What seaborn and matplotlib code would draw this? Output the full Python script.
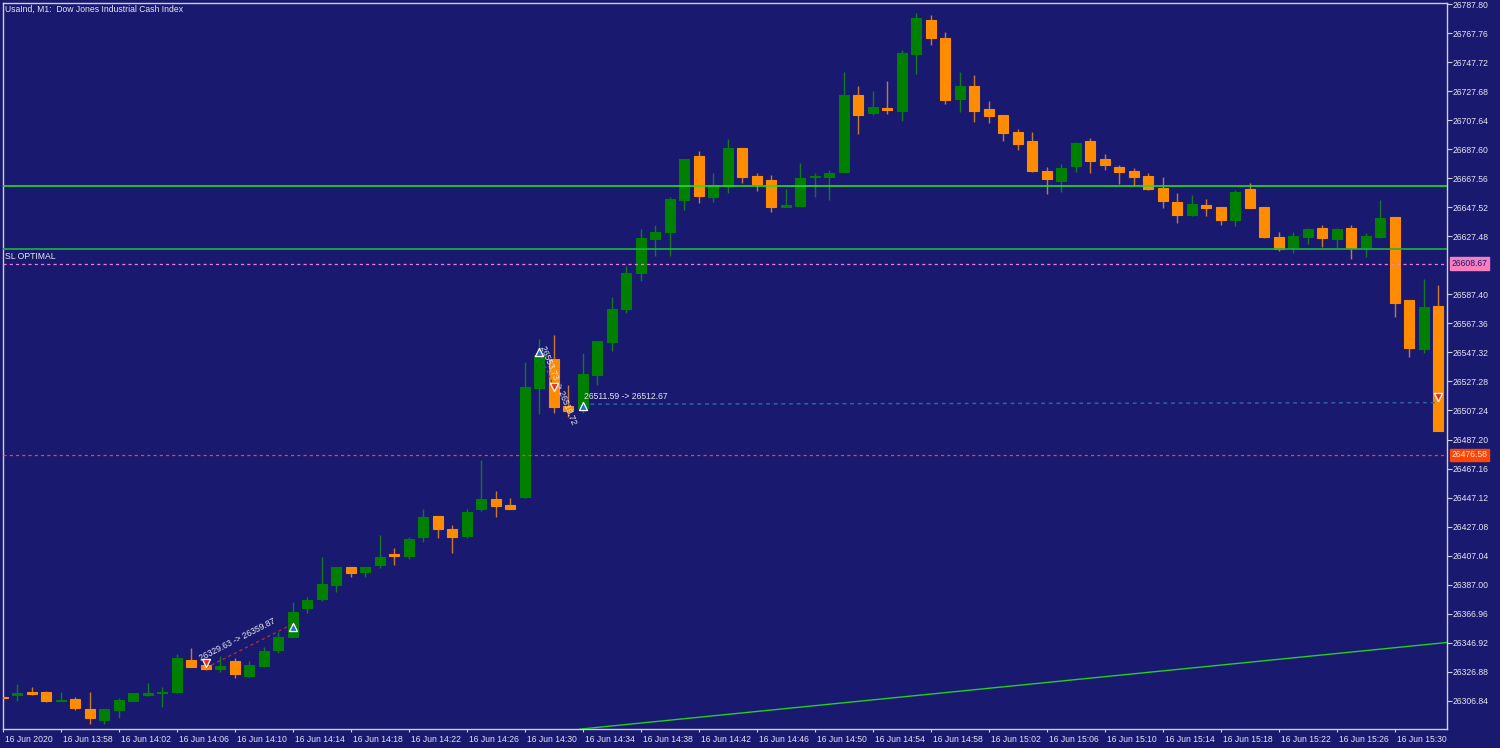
import matplotlib
matplotlib.use("Agg")
import matplotlib.pyplot as plt
import matplotlib.transforms as mtransforms
import seaborn as sns
import numpy as np
import pandas as pd

# ---------------- data ----------------
minute_index = list(range(100))  # 16 Jun 2020 13:54 ... 15:33, one candle per minute

open_ = [26309.8, 26311.2, 26312.9, 26312.6, 26307.0, 26308.1, 26301.2, 26293.6, 26300.5, 26306.7,
         26310.8, 26312.2, 26312.9, 26335.0, 26331.6, 26328.8, 26334.3, 26324.0, 26330.9, 26341.9,
         26350.9, 26370.9, 26377.1, 26386.8, 26399.2, 26395.8, 26400.6, 26408.2, 26406.8, 26419.9,
         26434.4, 26425.4, 26420.6, 26439.2, 26446.1, 26442.0, 26447.5, 26522.8, 26542.8, 26510.3,
         26509.0, 26531.7, 26554.5, 26577.3, 26602.2, 26625.6, 26630.5, 26652.5, 26682.9, 26654.6,
         26662.2, 26688.4, 26669.1, 26666.4, 26647.7, 26648.4, 26668.4, 26668.4, 26671.9, 26725.0,
         26712.6, 26716.1, 26714.0, 26753.3, 26776.8, 26764.4, 26722.3, 26731.2, 26715.4, 26711.2,
         26699.5, 26693.3, 26672.6, 26665.7, 26676.0, 26693.3, 26680.8, 26675.3, 26672.6, 26669.1,
         26660.8, 26651.2, 26642.2, 26649.1, 26647.7, 26638.7, 26660.1, 26647.7, 26627.0, 26620.1,
         26627.0, 26633.2, 26625.6, 26633.2, 26620.1, 26627.0, 26640.8, 26583.5, 26549.7, 26579.4]
high = [26310.2, 26318.4, 26316.4, 26313.6, 26312.9, 26309.5, 26312.9, 26301.2, 26308.8, 26312.2,
        26319.1, 26316.4, 26339.1, 26343.3, 26335.0, 26337.8, 26336.4, 26334.3, 26344.0, 26354.3,
        26375.0, 26378.5, 26406.1, 26399.2, 26399.2, 26399.2, 26421.3, 26412.3, 26419.9, 26439.2,
        26434.4, 26428.2, 26439.2, 26473.1, 26451.7, 26446.8, 26540.7, 26556.6, 26559.4, 26524.8,
        26546.9, 26555.2, 26585.6, 26607.0, 26632.5, 26635.3, 26654.6, 26680.8, 26686.4, 26671.2,
        26694.7, 26688.4, 26671.2, 26669.8, 26660.1, 26678.1, 26671.2, 26673.3, 26740.9, 26731.2,
        26727.8, 26734.7, 26756.1, 26781.6, 26780.2, 26768.5, 26740.9, 26738.8, 26720.9, 26711.2,
        26701.6, 26699.5, 26675.3, 26677.4, 26692.6, 26695.3, 26684.3, 26676.7, 26674.6, 26671.2,
        26668.4, 26657.4, 26656.0, 26653.2, 26647.7, 26659.4, 26664.3, 26647.7, 26630.5, 26630.5,
        26633.2, 26635.3, 26633.2, 26635.3, 26629.8, 26652.5, 26640.8, 26583.5, 26598.0, 26593.9]
low = [26308.4, 26306.7, 26310.8, 26306.0, 26306.7, 26300.5, 26290.8, 26290.8, 26295.0, 26306.7,
       26310.2, 26302.6, 26312.2, 26330.2, 26328.1, 26326.7, 26322.6, 26323.3, 26330.2, 26339.8,
       26350.9, 26367.5, 26375.7, 26381.9, 26392.3, 26392.3, 26398.5, 26400.6, 26404.7, 26416.5,
       26419.2, 26408.9, 26419.2, 26437.9, 26433.7, 26439.2, 26446.8, 26504.8, 26505.5, 26502.7,
       26505.5, 26524.8, 26548.3, 26574.5, 26596.6, 26613.9, 26613.9, 26645.6, 26650.5, 26651.2,
       26657.4, 26664.3, 26658.8, 26644.3, 26647.7, 26648.4, 26654.6, 26652.5, 26671.9, 26698.1,
       26711.2, 26711.9, 26707.1, 26739.5, 26759.5, 26718.8, 26713.3, 26706.4, 26705.7, 26693.3,
       26687.1, 26671.9, 26656.7, 26658.1, 26671.9, 26671.2, 26673.3, 26663.6, 26662.2, 26659.4,
       26647.0, 26636.7, 26641.5, 26641.5, 26635.3, 26634.6, 26647.0, 26626.3, 26617.3, 26616.0,
       26622.2, 26620.1, 26618.7, 26611.8, 26613.2, 26626.3, 26571.8, 26544.2, 26546.9, 26493.1]
close = [26308.8, 26312.2, 26311.9, 26306.7, 26307.7, 26302.2, 26295.3, 26301.2, 26307.4, 26312.2,
         26312.2, 26312.9, 26336.4, 26330.2, 26329.1, 26330.9, 26325.3, 26331.6, 26341.2, 26350.9,
         26368.1, 26376.4, 26387.5, 26399.2, 26395.1, 26399.2, 26406.1, 26407.1, 26418.5, 26433.7,
         26425.4, 26419.9, 26437.2, 26446.1, 26441.3, 26439.2, 26523.5, 26545.5, 26509.7, 26506.9,
         26532.4, 26555.2, 26577.3, 26602.2, 26626.3, 26630.5, 26653.2, 26680.8, 26655.3, 26662.9,
         26688.4, 26668.4, 26663.6, 26647.7, 26649.1, 26667.7, 26669.1, 26671.2, 26725.0, 26711.2,
         26716.7, 26714.7, 26754.0, 26778.2, 26764.4, 26721.6, 26731.2, 26714.0, 26710.5, 26698.8,
         26691.2, 26672.6, 26667.0, 26674.6, 26691.9, 26679.5, 26676.7, 26671.9, 26668.4, 26660.1,
         26651.9, 26642.2, 26649.8, 26647.0, 26638.7, 26658.1, 26647.0, 26627.0, 26618.7, 26627.7,
         26632.5, 26626.3, 26632.5, 26619.4, 26627.7, 26640.1, 26581.4, 26550.4, 26578.7, 26493.1]

x_tick_pos = [0, 4, 8, 12, 16, 20, 24, 28, 32, 36, 40, 44, 48, 52, 56, 60, 64, 68, 72, 76, 80, 84, 88, 92, 96]
x_tick_labels = ["16 Jun 2020", "16 Jun 13:58", "16 Jun 14:02", "16 Jun 14:06", "16 Jun 14:10",
                 "16 Jun 14:14", "16 Jun 14:18", "16 Jun 14:22", "16 Jun 14:26", "16 Jun 14:30",
                 "16 Jun 14:34", "16 Jun 14:38", "16 Jun 14:42", "16 Jun 14:46", "16 Jun 14:50",
                 "16 Jun 14:54", "16 Jun 14:58", "16 Jun 15:02", "16 Jun 15:06", "16 Jun 15:10",
                 "16 Jun 15:14", "16 Jun 15:18", "16 Jun 15:22", "16 Jun 15:26", "16 Jun 15:30"]
y_ticks = [26306.84, 26326.88, 26346.92, 26366.96, 26387.00, 26407.04, 26427.08, 26447.12,
           26467.16, 26487.20, 26507.24, 26527.28, 26547.32, 26567.36, 26587.40,
           26627.48, 26647.52, 26667.56, 26687.60, 26707.64, 26727.68, 26747.72, 26767.76, 26787.80]

level_upper = 26662.2        # bright green horizontal line
level_lower = 26618.9        # green horizontal line
sl_optimal = 26608.67        # pink dashed line
red_level = 26476.58         # orange-red dashed line

trend_k = [39.8, 99.7]
trend_p = [26287.3, 26347.2]

tradeA_k = [14, 20]
tradeA_p = [26329.63, 26359.87]
tradeC_k = [40, 99]
tradeC_p = [26511.59, 26512.67]

buy_k = [20, 37, 40]
buy_p = [26357.8, 26547.6, 26510.0]
sell_k = [14, 38, 99]
sell_p = [26332.9, 26523.4, 26516.5]

# ---------------- style ----------------
BG = "#191970"
GREEN = "#008000"
ORANGE = "#FF8C00"
TXT = "#E6E6EE"

sns.set_theme(style="dark", rc={"axes.facecolor": BG, "figure.facecolor": BG})
plt.rcParams["font.family"] = ["Liberation Sans", "DejaVu Sans"]
FS = 6.2

fig = plt.figure(figsize=(15, 7.48), dpi=100)
ax = fig.add_axes([3 / 1500, 19 / 748, 1444 / 1500, 726 / 748])
ax.set_facecolor(BG)

df = pd.DataFrame({"k": minute_index, "open": open_, "high": high, "low": low, "close": close})
up = df["close"] >= df["open"]
body_col = np.where(up, GREEN, ORANGE)
wick_col = np.where(up, "#127A1C", "#C87A30")

ax.vlines(df["k"], df["low"], df["high"], colors=wick_col, linewidth=1.0, zorder=2)
ax.bar(df["k"], (df["close"] - df["open"]).abs(), bottom=np.minimum(df["open"], df["close"]),
       width=0.69, color=body_col, edgecolor=body_col, linewidth=0.8, zorder=3)

# horizontal levels
ax.axhline(level_upper, color="#22E022", lw=1.2, zorder=4)
ax.axhline(level_lower, color="#1FB43A", lw=1.2, zorder=4)
ax.axhline(sl_optimal, color="#E880E0", lw=0.9, ls=(0, (2.5, 2.5)), zorder=4)
ax.axhline(red_level, color="#FF4500", lw=0.9, ls=(0, (2.5, 2.5)), zorder=4)

# trend line
sns.lineplot(x=trend_k, y=trend_p, ax=ax, color="#22D022", lw=1.0, zorder=4)

# trade lines
ax.plot(tradeA_k, tradeA_p, color="#B83030", lw=0.9, ls=(0, (2.5, 2.5)), zorder=5)
ax.plot(tradeC_k, tradeC_p, color="#2A64A8", lw=1.1, ls=(0, (2.5, 2.5)), zorder=5)
ax.plot([37, 38], [26547.6, 26523.4], color="#2A64A8", lw=0.9, ls=(0, (2, 2)), zorder=5)

ax.scatter(buy_k, buy_p, marker="^", s=34, c="#1E6FD0", edgecolors="white", linewidths=0.9, zorder=7)
ax.scatter(sell_k, sell_p, marker="v", s=34, c="#E8301E", edgecolors="white", linewidths=0.9, zorder=7)

# trade texts
ax.text(13.7, 26333.0, "26329.63 -> 26359.87", rotation=27, rotation_mode="anchor",
        ha="left", va="bottom", color=TXT, fontsize=FS, zorder=8)
ax.text(37.2, 26551.5, "26553.73 -> 26519.72", rotation=-68, rotation_mode="anchor",
        ha="left", va="center", color=TXT, fontsize=FS, zorder=8)
ax.text(40.05, 26513.6, "26511.59 -> 26512.67", ha="left", va="bottom",
        color=TXT, fontsize=FS, zorder=8)
ax.text(0.12, 26610.4, "SL OPTIMAL", ha="left", va="bottom", color=TXT, fontsize=FS, zorder=8)
ax.text(0.0015, 0.997, "UsaInd, M1:  Dow Jones Industrial Cash Index", transform=ax.transAxes,
        ha="left", va="top", color=TXT, fontsize=FS, zorder=8)

# limits
ax.set_xlim(0.03, 99.62)
ax.set_ylim(26287.4, 26788.5)

# axes / ticks
ax.yaxis.tick_right()
ax.set_yticks(y_ticks)
ax.set_yticklabels([f"{v:.2f}" for v in y_ticks])
ax.set_xticks(x_tick_pos)
ax.set_xticklabels(x_tick_labels)
ax.tick_params(axis="y", which="both", right=True, left=False, length=3.6, width=0.8,
               color="#D0D0D8", labelcolor=TXT, labelsize=FS, pad=0.6, direction="out")
ax.tick_params(axis="x", which="both", bottom=True, length=2.5, width=0.8,
               color="#D0D0D8", labelcolor=TXT, labelsize=FS, pad=1.5, direction="out")
offset = mtransforms.ScaledTranslation(2 / 100, 0, fig.dpi_scale_trans)
for lab in ax.get_xticklabels():
    lab.set_horizontalalignment("left")
    lab.set_transform(lab.get_transform() + offset)
for sp in ax.spines.values():
    sp.set_visible(True)
    sp.set_color("#D0D0D8")
    sp.set_linewidth(1.0)
ax.grid(False)
ax.set_xlabel("")
ax.set_ylabel("")
if ax.get_legend() is not None:
    ax.get_legend().remove()

# price boxes on the right axis
ax.annotate(f"{sl_optimal:.2f}", xy=(1.0, sl_optimal), xycoords=("axes fraction", "data"),
            xytext=(3.2, 0), textcoords="offset points", ha="left", va="center",
            fontsize=FS, color=BG, annotation_clip=False, zorder=9,
            bbox=dict(boxstyle="square,pad=0.18", fc="#F77FC0", ec="#F77FC0"))
ax.annotate(f"{red_level:.2f}", xy=(1.0, red_level), xycoords=("axes fraction", "data"),
            xytext=(3.2, 0), textcoords="offset points", ha="left", va="center",
            fontsize=FS, color="#FFE8E0", annotation_clip=False, zorder=9,
            bbox=dict(boxstyle="square,pad=0.18", fc="#FF4500", ec="#FF4500"))

fig.savefig("out.png", dpi=100, facecolor=BG)
